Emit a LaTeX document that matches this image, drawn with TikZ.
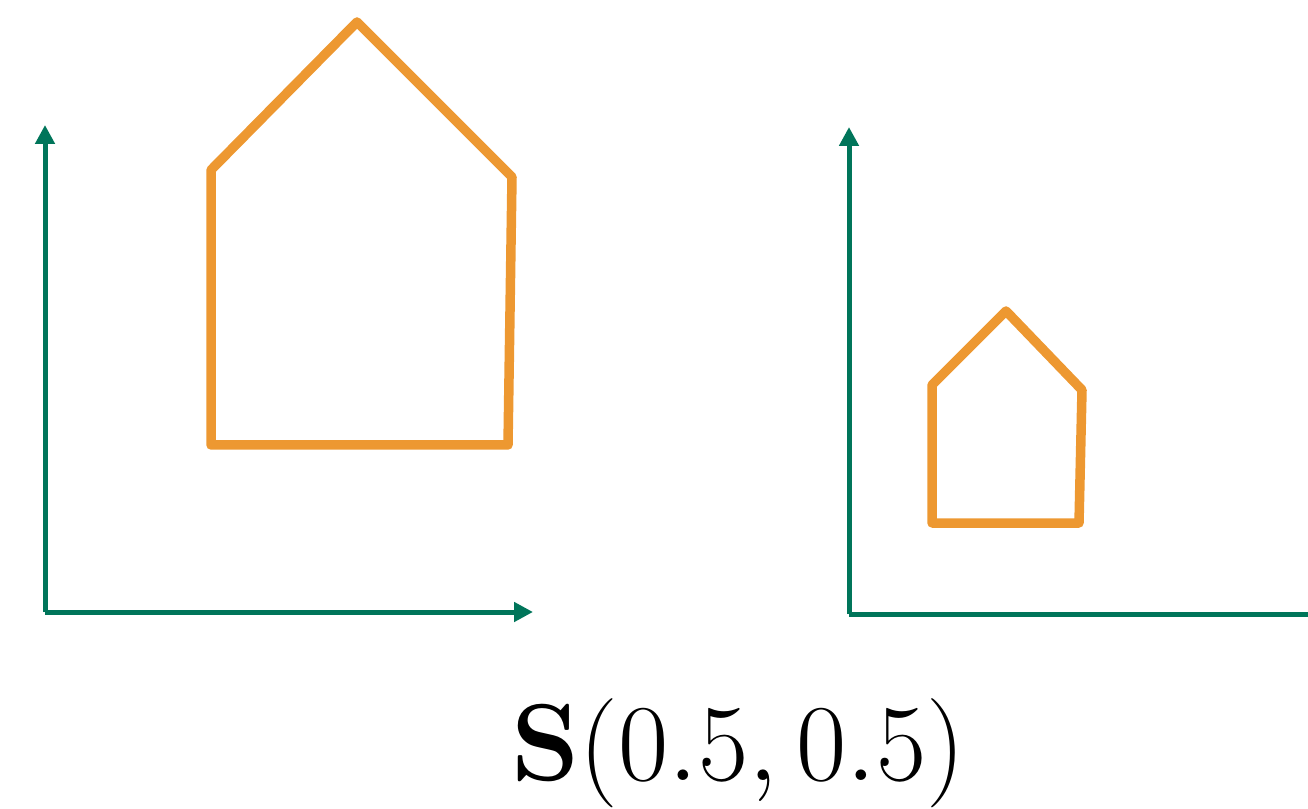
\documentclass[tikz,border=0pt]{standalone}
\usepackage{amsmath,amssymb}
\usepackage{xcolor}
\usepackage{tikz}
\usetikzlibrary{positioning, arrows.meta, calc}

\definecolor{axisgreen}{RGB}{0,117,90}
\definecolor{houseorange}{RGB}{237,152,49}

\begin{document}
\begin{tikzpicture}[
        >={Triangle[width=0.19cm, length=0.19cm]}, % Arrow style
        % Define styles
        axis/.style={draw=axisgreen, line width=0.05cm},
        house/.style={draw=houseorange, line width=0.095cm, line join=round, line cap=round},
        caption/.style={font=\Huge, scale=1.25, transform shape, anchor=base}
    ]
    \useasboundingbox (0,0) rectangle (13.08,8.08);

    % --- Left axes ---
    \coordinate (O1) at (0.45,1.96);
    \coordinate (Y1) at (0.45,6.83);
    \coordinate (X1) at (5.33,1.96);
    \draw[axis, ->] (O1) -- (Y1);
    \draw[axis, ->] (O1) -- (X1);

    % --- Original house ---
    \draw[house] (2.11,3.63) -- (2.11,6.38) -- (3.57,7.86) -- (5.12,6.31)
        -- (5.08,3.63) -- cycle;

    % --- Right axes ---
    \coordinate (O2) at (8.49,1.94);
    \coordinate (Y2) at (8.49,6.81);
    \coordinate (X2) at (13.08,1.94);
    \draw[axis, ->] (O2) -- (Y2);
    \draw[axis] (O2) -- (X2);

    % --- Scaled house ---
    \draw[house] (9.32,2.85) -- (9.32,4.23) -- (10.06,4.97) -- (10.82,4.18)
        -- (10.79,2.85) -- cycle;

    % --- Label ---
    \node[caption] (label) at (7.38,0.28) {$\mathbf{S}(0.5,0.5)$};

\end{tikzpicture}
\end{document}
